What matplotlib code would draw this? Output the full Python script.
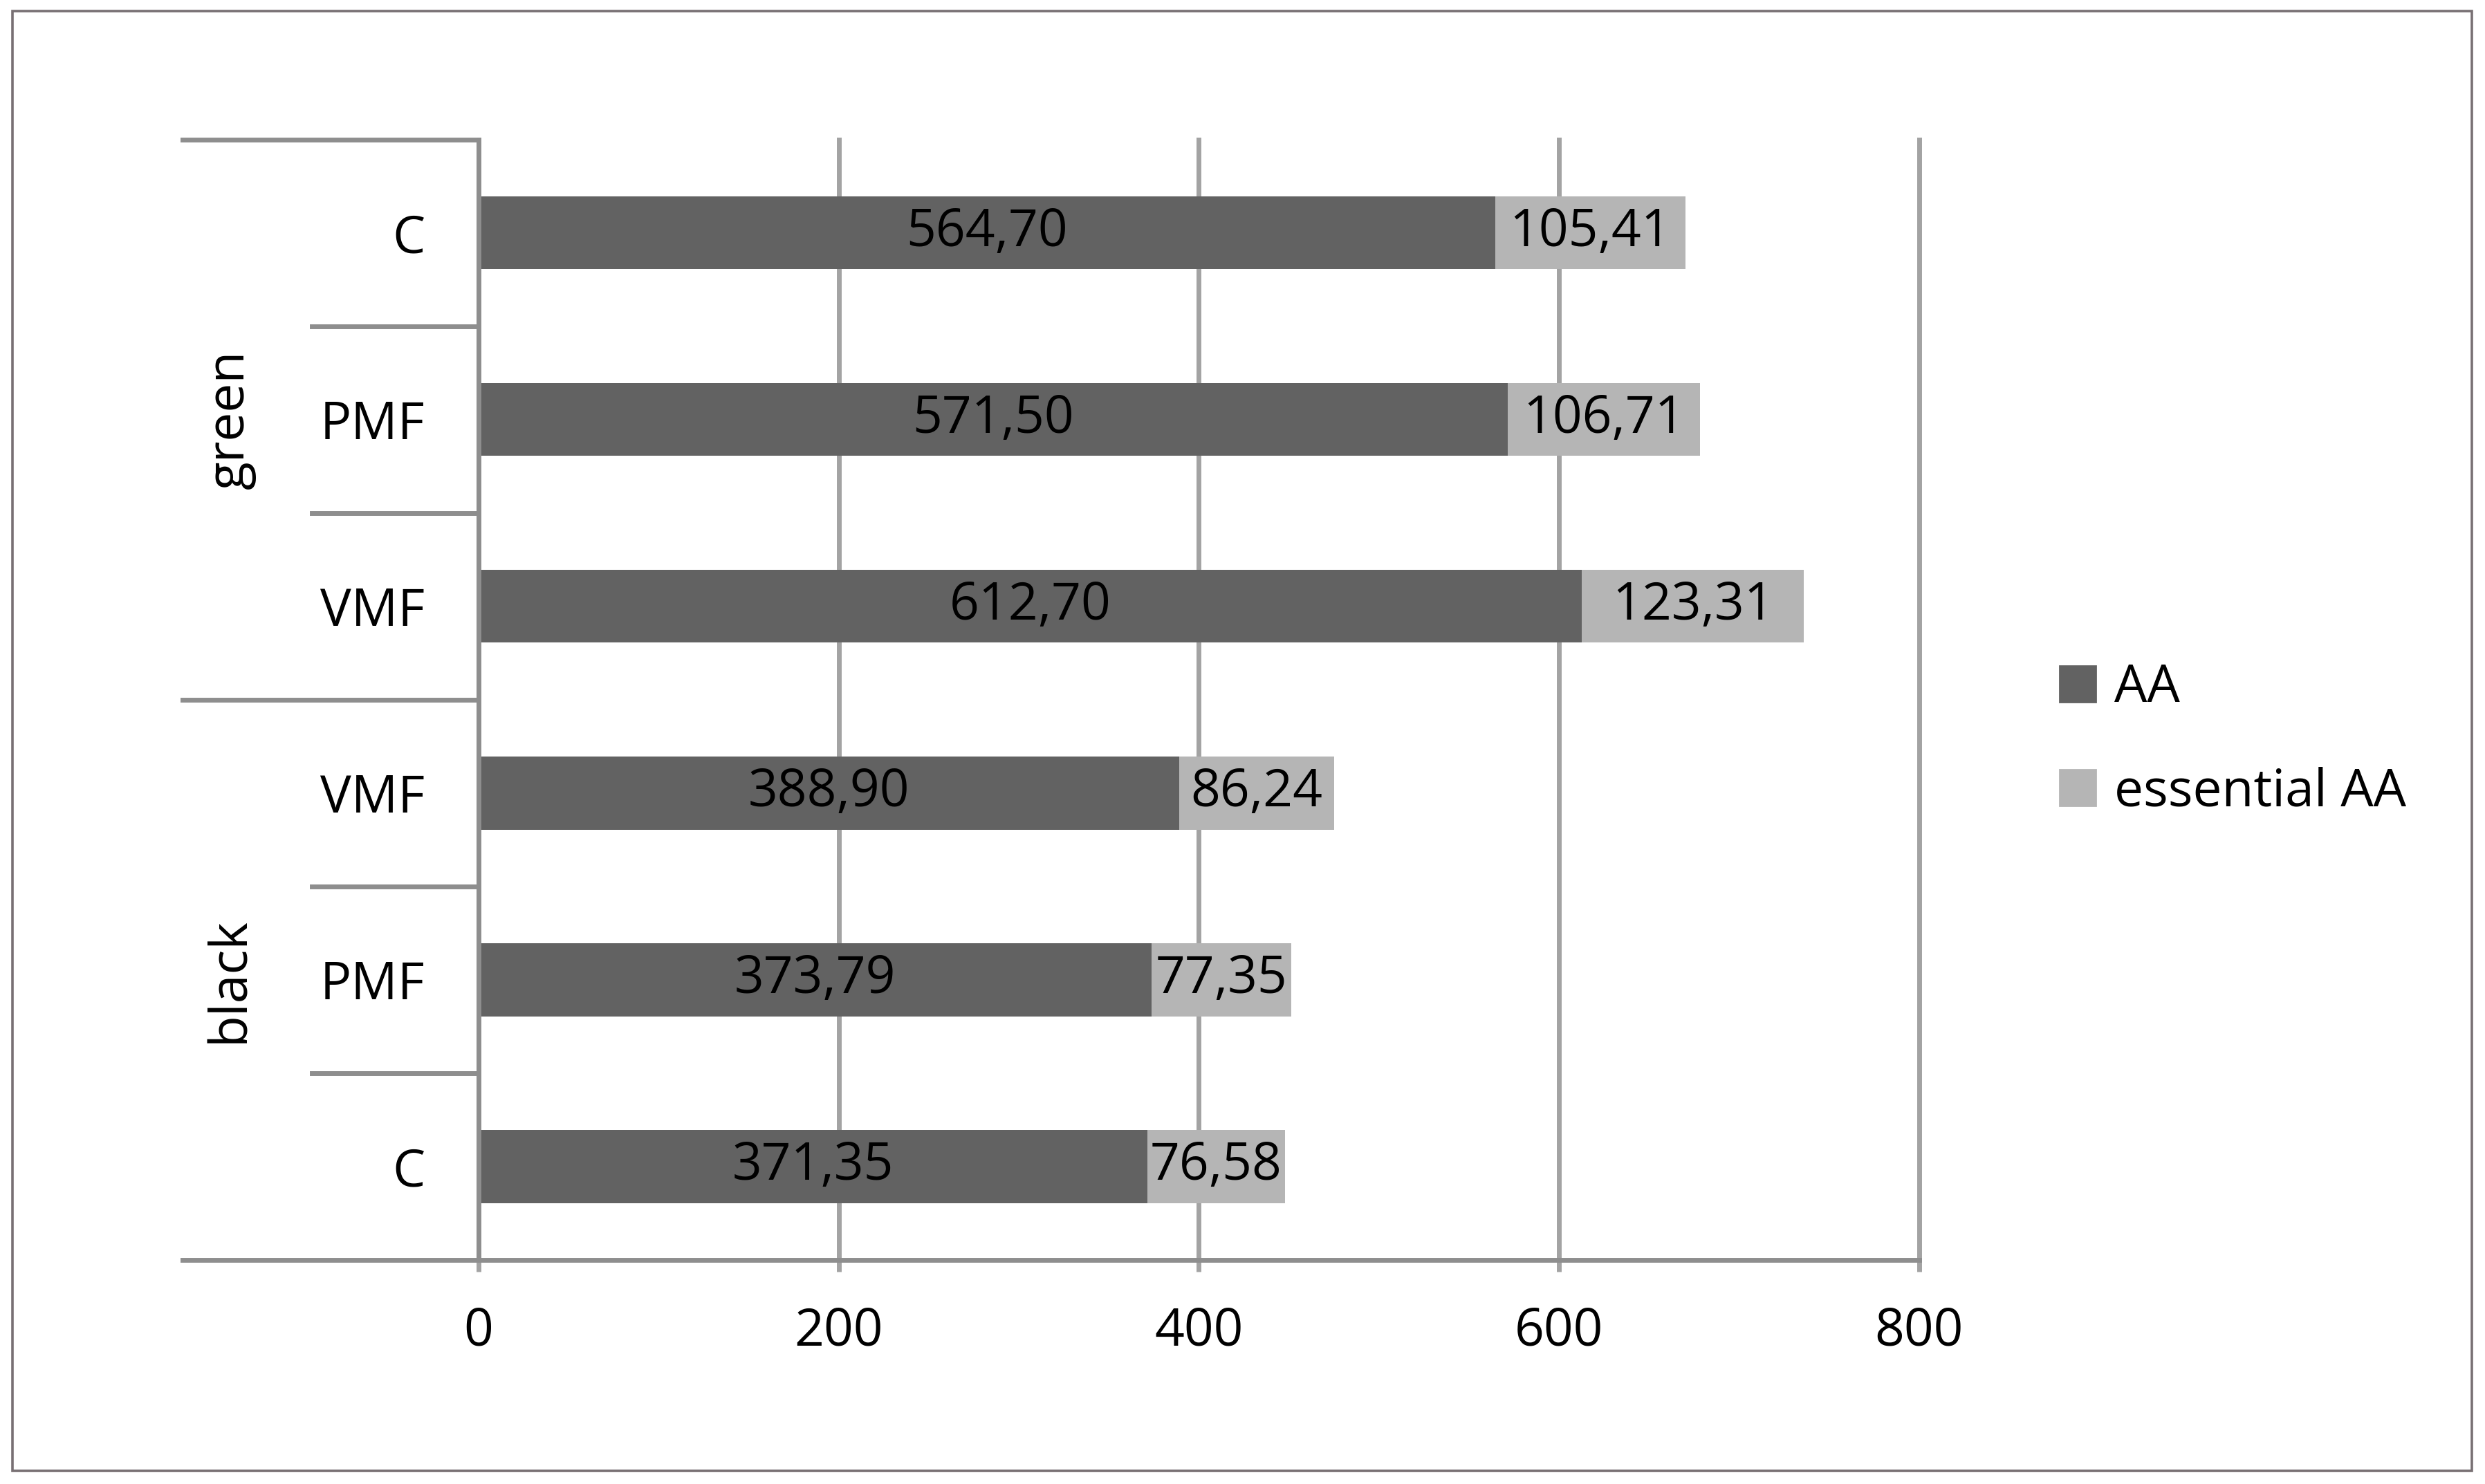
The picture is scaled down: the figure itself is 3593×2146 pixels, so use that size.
import matplotlib
matplotlib.use("Agg")
import matplotlib.pyplot as plt
import matplotlib.transforms as mtransforms
from matplotlib.patches import Rectangle, Patch
import numpy as np

# ── data (bottom to top) ─────────────────────────
groups = ["black", "green"]
categories = ["C", "PMF", "VMF", "VMF", "PMF", "C"]
aa = [371.35, 373.79, 388.90, 612.70, 571.50, 564.70]
essential = [76.58, 77.35, 86.24, 123.31, 106.71, 105.41]
xticks = [0, 200, 400, 600, 800]

plt.rcParams["font.family"] = ["Open Sans", "DejaVu Sans"]
dark, light = "#626262", "#b5b5b5"
grid_c = "#a3a3a3"
fs = 27

fig = plt.figure(figsize=(17.965, 10.73), dpi=200)
ax = fig.add_axes([0.1926, 0.151, 0.5797, 0.755])

y = np.arange(len(categories))
ax.barh(y, aa, height=0.39, color=dark, label="AA", zorder=3)
ax.barh(y, essential, left=aa, height=0.39, color=light, label="essential AA", zorder=3)

def fmt(v):
    return f"{v:.2f}".replace(".", ",")

for yi, a, e in zip(y, aa, essential):
    ax.text(a / 2, yi, fmt(a), ha="center", va="center", fontsize=fs, color="black", zorder=4)
    ax.text(a + e / 2, yi, fmt(e), ha="center", va="center", fontsize=fs, color="black", zorder=4)

ax.set_xlim(0, 800)
ax.set_ylim(-0.5, len(categories) - 0.5)
ax.set_xticks(xticks)
ax.set_xticklabels([str(t) for t in xticks], fontsize=fs)
ax.tick_params(axis="x", length=6, width=2.5, color=grid_c, pad=18, direction="out")
ax.grid(axis="x", color=grid_c, linewidth=2.5, zorder=0)
for gl in ax.xaxis.get_gridlines():
    gl.set_clip_on(False)

ax.set_yticks(y)
ax.set_yticklabels(categories, fontsize=fs)
ax.tick_params(axis="y", length=0, pad=28)

for s in ["top", "right"]:
    ax.spines[s].set_visible(False)
ax.spines["left"].set_color("#8e8e8e")
ax.spines["left"].set_linewidth(2.5)
ax.spines["left"].set_zorder(5)
ax.spines["bottom"].set_color("#8e8e8e")
ax.spines["bottom"].set_linewidth(2.5)

# ── multi-level category axis ──────────────────────
trans = mtransforms.blended_transform_factory(ax.transAxes, ax.transData)
outer_x0, inner_x0 = -0.2057, -0.1155
for b in [-0.5, 2.5, 5.5]:
    ax.plot([outer_x0, 0], [b, b], transform=trans, color="#8e8e8e", lw=2.5, clip_on=False)
for b in [0.5, 1.5, 3.5, 4.5]:
    ax.plot([inner_x0, 0], [b, b], transform=trans, color="#8e8e8e", lw=2.5, clip_on=False)
for gi, g in enumerate(groups):
    ax.text(-0.1727, gi * 3 + 1, g, transform=trans, rotation=90, ha="center", va="center", fontsize=fs)

# ── legend ─────────────────────────────────────
handles = [Patch(color=dark), Patch(color=light)]
fig.legend(handles, ["AA", "essential AA"], loc="center left", bbox_to_anchor=(0.81, 0.501), frameon=False,
           fontsize=fs, handlelength=0.7, handleheight=0.7, handletextpad=0.35, labelspacing=1.0)

# ── outer frame ─────────────────────────────────
fig.patches.append(Rectangle((0.0049, 0.0088), 0.9897, 0.9838, transform=fig.transFigure,
                             fill=False, edgecolor="#787073", linewidth=1.3))

fig.savefig("out.png", dpi=200, facecolor="white")
